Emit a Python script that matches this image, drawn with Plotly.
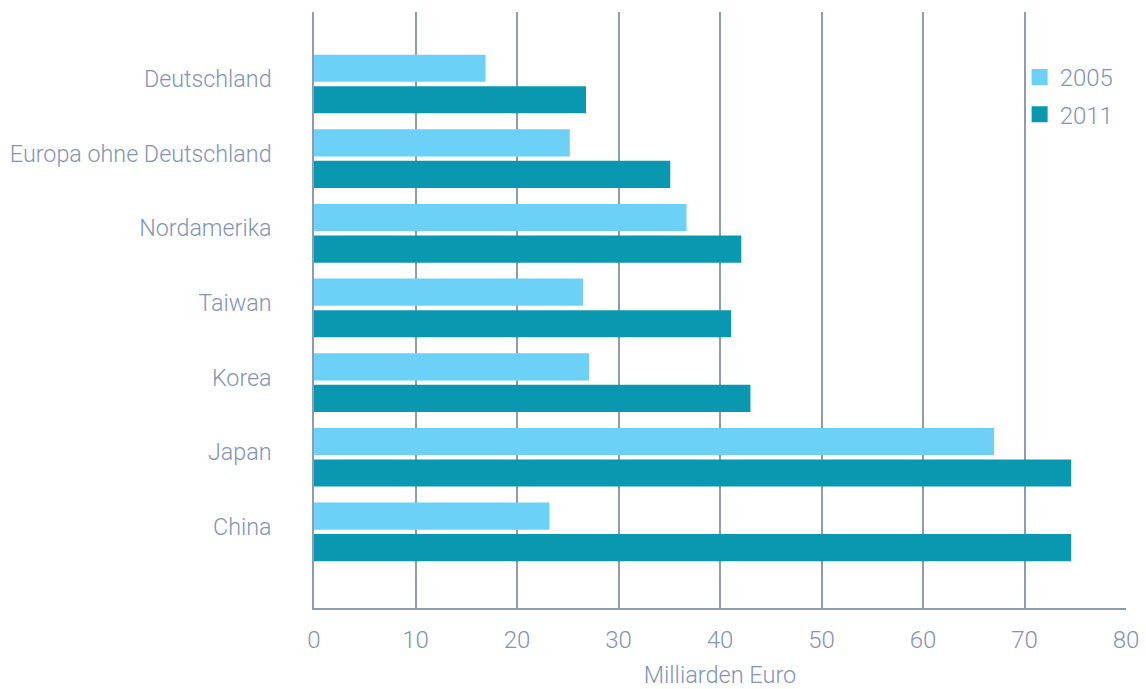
import plotly.graph_objects as go

regions = ['Deutschland', 'Europa ohne Deutschland', 'Nordamerika', 'Taiwan',
           'Korea', 'Japan', 'China']
values_2005 = [16.9, 25.2, 36.7, 26.5, 27.1, 67.0, 23.2]
values_2011 = [26.8, 35.1, 42.1, 41.1, 43.0, 74.6, 74.6]
x_ticks = [0, 10, 20, 30, 40, 50, 60, 70, 80]
years = ['2005', '2011']
colors = ['#6dd0f6', '#0a98b0']

text_color = '#8393b6'
grid_color = '#8e9bb8'

fig = go.Figure()
for year, vals, col in zip(years, [values_2005, values_2011], colors):
    fig.add_trace(go.Bar(
        y=regions, x=vals, orientation='h', name=year, showlegend=False,
        marker=dict(color=col, line=dict(width=0))
    ))
    # legend entry with a bigger square than the bar legend symbol
    fig.add_trace(go.Scatter(
        x=[None], y=[None], mode='markers', name=year, legendgroup=year,
        marker=dict(symbol='square', size=16, color=col)
    ))

fig.update_layout(
    width=1146, height=689,
    barmode='group', bargap=0.155, bargroupgap=0.14,
    paper_bgcolor='white', plot_bgcolor='white',
    font=dict(family='Roboto', weight=300, color=text_color, size=23),
    margin=dict(l=314, r=20, t=12, b=81),
    xaxis=dict(
        range=[0, 80], tickvals=x_ticks, showgrid=True, gridcolor=grid_color,
        gridwidth=1.5, zeroline=False, showline=True, linecolor=grid_color,
        linewidth=1.5, ticks='', tickfont=dict(size=24), ticklabelstandoff=9,
        ticklabeloverflow='allow',
        title=dict(text='Milliarden Euro', font=dict(size=23.5), standoff=18),
        automargin=False
    ),
    yaxis=dict(
        range=[7.02, -0.965], showgrid=False, zeroline=False, showline=True,
        linecolor=grid_color, linewidth=1.5, ticks='', ticklabelstandoff=36,
        ticklabelshift=5, tickfont=dict(size=23.3), automargin=False
    ),
    legend=dict(
        x=0.869, xanchor='left', y=0.928, yanchor='top', bgcolor='rgba(0,0,0,0)',
        font=dict(size=24), itemwidth=30, traceorder='grouped', tracegroupgap=3
    ),
    showlegend=True
)

# drop the default 8px body margin so the figure fills the window
fig.write_html("out.html", config={'displayModeBar': False},
               post_script="document.body.style.margin='0';")
